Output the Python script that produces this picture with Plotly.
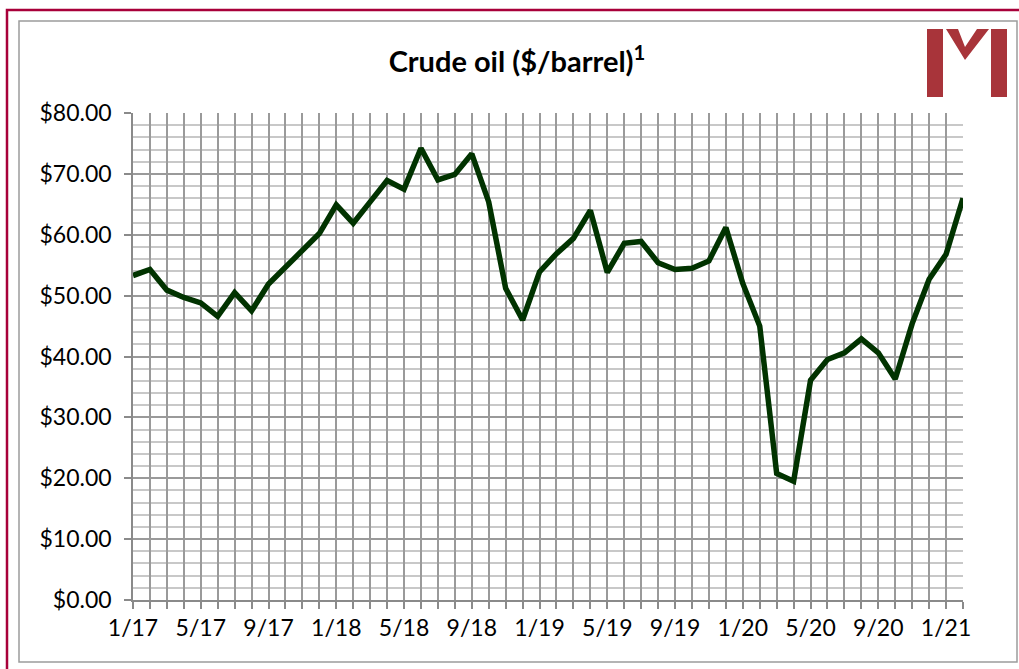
import plotly.graph_objects as go

months = ["1/17","2/17","3/17","4/17","5/17","6/17","7/17","8/17","9/17","10/17","11/17","12/17",
          "1/18","2/18","3/18","4/18","5/18","6/18","7/18","8/18","9/18","10/18","11/18","12/18",
          "1/19","2/19","3/19","4/19","5/19","6/19","7/19","8/19","9/19","10/19","11/19","12/19",
          "1/20","2/20","3/20","4/20","5/20","6/20","7/20","8/20","9/20","10/20","11/20","12/20",
          "1/21","2/21"]
prices = [53.3, 54.3, 50.9, 49.7, 48.8, 46.6, 50.5, 47.5, 51.9, 54.6, 57.2, 60.2,
          64.9, 61.9, 65.4, 68.9, 67.5, 74.2, 69.0, 69.9, 73.3, 65.4, 51.2, 46.0,
          53.9, 56.9, 59.4, 64.0, 53.8, 58.6, 58.9, 55.4, 54.3, 54.5, 55.7, 61.2,
          52.0, 45.0, 20.8, 19.5, 36.1, 39.5, 40.6, 42.9, 40.6, 36.3, 45.4, 52.7,
          56.8, 66.0]
label_months = ["1/17","5/17","9/17","1/18","5/18","9/18","1/19","5/19","9/19","1/20","5/20","9/20","1/21"]
y_ticks = [0, 10, 20, 30, 40, 50, 60, 70, 80]
title = "<b>Crude oil ($/barrel)<sup>1</sup></b>"

W, H = 1019, 669
L, R, T, B = 133, 963, 113, 600

def px(x):
    return (x - L) / (R - L)

def py(y):
    return (B - y) / (B - T)

idx = list(range(len(months)))
ticktext = [m if m in label_months else "" for m in months]

fig = go.Figure()
fig.add_trace(go.Scatter(x=idx, y=prices, mode="lines",
                         line=dict(color="#013300", width=5.5), hoverinfo="skip"))

font = "Lato, 'Open Sans', sans-serif"
fig.update_layout(
    width=W, height=H,
    margin=dict(l=L, r=W - R, t=T, b=H - B, pad=0),
    paper_bgcolor="white", plot_bgcolor="white",
    showlegend=False,
    font=dict(family=font, size=23, color="black"),
    title=dict(text=title, x=517 / W, xanchor="center", y=1 - 62 / H, yanchor="middle",
               font=dict(family=font, size=29, color="black")),
    xaxis=dict(range=[0, len(months) - 1], tickmode="array", tickvals=idx, ticktext=ticktext,
               showgrid=True, gridcolor="#9a9a9a", gridwidth=1.5,
               showline=True, linecolor="#8a8a8a", linewidth=1.5,
               ticks="outside", ticklen=7, tickcolor="#8a8a8a", tickwidth=1.5,
               tickfont=dict(size=23), zeroline=False, fixedrange=True),
    yaxis=dict(range=[0, 80], tickmode="array", tickvals=y_ticks,
               ticktext=[f"${v:.2f}" for v in y_ticks],
               showgrid=True, gridcolor="#9a9a9a", gridwidth=1.5,
               minor=dict(dtick=2, showgrid=True, gridcolor="#c8c8c8", gridwidth=1.5),
               showline=True, linecolor="#8a8a8a", linewidth=1.5,
               ticks="outside", ticklen=7, tickcolor="#8a8a8a", tickwidth=1.5,
               ticklabelstandoff=8,
               tickfont=dict(size=23), zeroline=False, fixedrange=True),
)

# outer frame (crimson) and inner frame (gray)
fig.add_shape(type="rect", xref="paper", yref="paper",
              x0=px(7), x1=px(1030), y0=py(10), y1=py(690),
              line=dict(color="#A8003A", width=2.5), layer="below")
fig.add_shape(type="rect", xref="paper", yref="paper",
              x0=px(19), x1=px(1017), y0=py(21), y1=py(662),
              line=dict(color="#9c9c9c", width=1.5), layer="below")

# logo
red = "#A8343A"
def poly(pts):
    d = "M " + " L ".join(f"{px(a):.5f},{py(b):.5f}" for a, b in pts) + " Z"
    fig.add_shape(type="path", xref="paper", yref="paper", path=d,
                  fillcolor=red, line=dict(width=0))

poly([(927, 29), (943, 29), (943, 97), (927, 97)])
poly([(991, 29), (1007, 29), (1007, 97), (991, 97)])
poly([(946, 29), (958, 29), (965, 47), (977, 29), (989, 29), (965, 60)])

fig.write_html("out.html", config={"displayModeBar": False},
               post_script="document.body.style.margin='0';document.body.style.overflow='hidden';")
